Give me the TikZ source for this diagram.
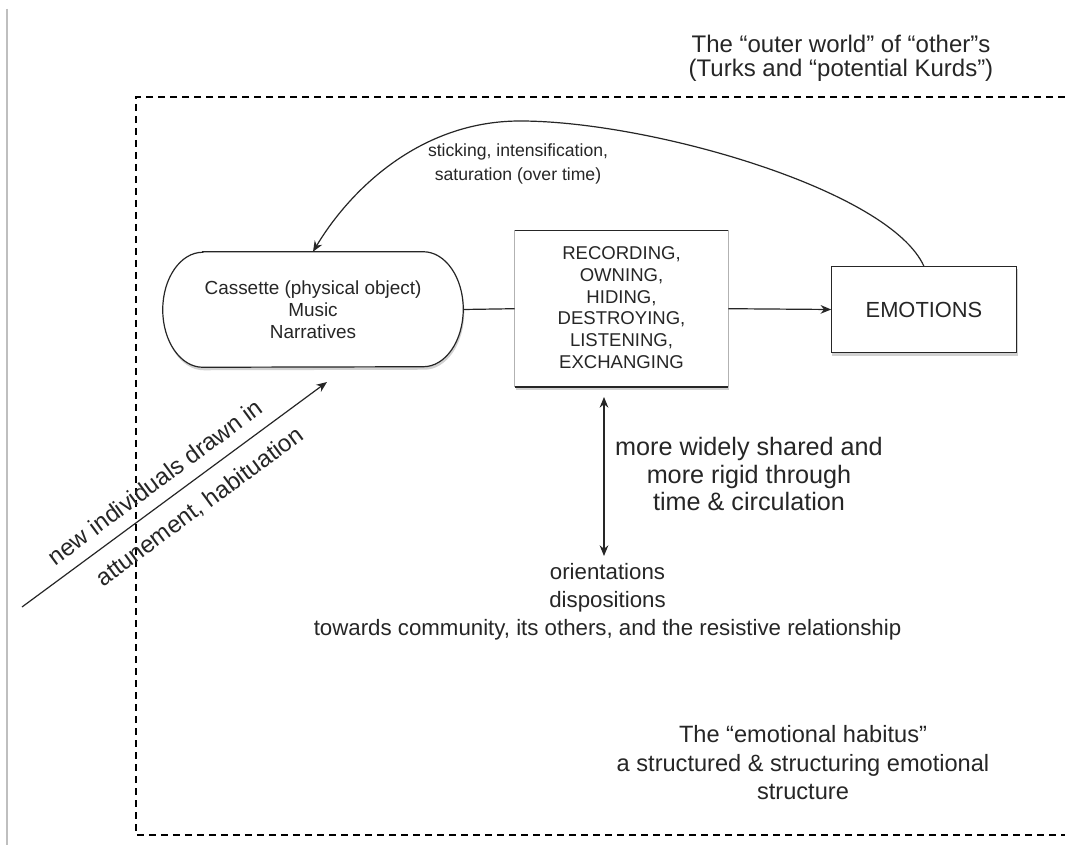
\documentclass[tikz,border=0pt]{standalone}
\usepackage{fontspec}
\setmainfont{Liberation Sans}
\usetikzlibrary{arrows.meta,calc}
\begin{document}
\begin{tikzpicture}[x=0.75pt,y=-0.75pt,
  lbl/.style={align=center, inner sep=0pt, text=black!85},
  arr/.style={-{Stealth[length=8pt,width=6.5pt]}, line width=0.9pt, draw=black!85},
  plain/.style={line width=0.9pt, draw=black!85},
  frame/.style={line width=0.9pt, draw=black, dash pattern=on 5pt off 4pt},
  shadow/.style={fill=black!18}
]
\useasboundingbox (0,0) rectangle (1065,845);
\fill[white] (0,0) rectangle (1065,845);
% page edge line
\draw[black!25, line width=0.9pt] (7,9) -- (7,845);
% outer dashed frame
\draw[frame] (1065,97) -- (136,97) -- (136,835) -- (1065,835);

% title
\node[lbl, font=\fontsize{18}{18}\selectfont] (title) at (841,58)
  {The “outer world” of “other”s\\(Turks and “potential Kurds”)};

% cassette (stadium with elliptical ends)
\node[minimum width=225pt, minimum height=86.25pt, inner sep=0pt] (cas) at (313,309.5) {};
\fill[shadow] ($(cas.north west)+(41,3)$) -- ($(cas.north east)+(-39,3)$)
  arc[start angle=90,end angle=-90,x radius=30pt,y radius=43.125pt]
  -- ($(cas.south west)+(41,3)$)
  arc[start angle=270,end angle=90,x radius=30pt,y radius=43.125pt] -- cycle;
\fill[white] ($(cas.north west)+(40,0)$) -- ($(cas.north east)+(-40,0)$)
  arc[start angle=90,end angle=-90,x radius=30pt,y radius=43.125pt]
  -- ($(cas.south west)+(40,0)$)
  arc[start angle=270,end angle=90,x radius=30pt,y radius=43.125pt] -- cycle;
\draw[plain] ($(cas.north west)+(40,0)$) -- ($(cas.north east)+(-40,0)$)
  arc[start angle=90,end angle=-90,x radius=30pt,y radius=43.125pt]
  -- ($(cas.south west)+(40,0)$)
  arc[start angle=270,end angle=90,x radius=30pt,y radius=43.125pt] -- cycle;
\node[lbl, font=\fontsize{14.2}{16.5}\selectfont] (castext) at (cas.center)
  {Cassette (physical object)\\Music\\Narratives};

% central practices box
\node[minimum width=159.75pt, minimum height=117pt, inner sep=0pt] (act) at (621.5,308.7) {};
\fill[shadow] ($(act.north west)+(1,3)$) rectangle ($(act.south east)+(1,3)$);
\fill[white] (act.north west) rectangle (act.south east);
\draw[black!30, line width=0.6pt] (act.north west) -- (act.south west);
\draw[black!30, line width=0.6pt] (act.north east) -- (act.south east);
\draw[black!85, line width=1.1pt] (act.north west) -- (act.north east);
\draw[black!85, line width=1.1pt] (act.south west) -- (act.south east);
\node[lbl, font=\fontsize{13.9}{16.3}\selectfont] (acttext) at (621.5,307.5)
  {RECORDING,\\OWNING,\\HIDING,\\DESTROYING,\\LISTENING,\\EXCHANGING};

% emotions box
\node[minimum width=138.75pt, minimum height=64.2pt, inner sep=0pt] (emo) at (924,309.5) {};
\fill[shadow] ($(emo.north west)+(1,3)$) rectangle ($(emo.south east)+(1,3)$);
\fill[white] (emo.north west) rectangle (emo.south east);
\draw[plain] (emo.north west) rectangle (emo.south east);
\node[lbl, font=\fontsize{16.4}{19}\selectfont] (emotext) at (emo.center) {EMOTIONS};

% connectors
\draw[plain] (cas.east) -- (act.west);
\draw[arr] (act.east) -- (emo.west);
\coordinate (peak) at (520,121);
\draw[arr] (emo.north) .. controls (890,190) and (650,121) .. (peak)
  .. controls (420,121) and (350,190) .. (cas.north);
\node[lbl, font=\fontsize{13.2}{18}\selectfont] (stick) at (518,164)
  {sticking, intensification,\\saturation (over time)};

% vertical double arrow
\node[lbl, font=\fontsize{16.7}{21}\selectfont] (orient) at (607.5,601.5)
  {orientations\\dispositions\\towards community, its others, and the resistive relationship};
\coordinate (vt) at (604,397);
\coordinate (vb) at (604,556);
\draw[{Stealth[length=8pt,width=6.5pt]}-{Stealth[length=8pt,width=6.5pt]}, line width=0.9pt, draw=black!85]
  (vt) -- (vb);
\node[lbl, font=\fontsize{18.9}{20.6}\selectfont] (shared) at (749,474)
  {more widely shared and\\more rigid through\\time \& circulation};

% diagonal arrow
\coordinate (dstart) at (22,607);
\coordinate (dtip) at (327,382);
\draw[arr] (dstart) -- (dtip);
\node[lbl, font=\fontsize{18}{18}\selectfont, rotate=36.4] (newind) at (155,482) {new individuals drawn in};
\node[lbl, font=\fontsize{18}{18}\selectfont, rotate=36.4] (attune) at (200,507) {attunement, habituation};

% habitus label
\node[lbl, font=\fontsize{17.7}{21.4}\selectfont] (hab) at (803,763)
  {The “emotional habitus”\\a structured \& structuring emotional\\structure};
\end{tikzpicture}
\end{document}
